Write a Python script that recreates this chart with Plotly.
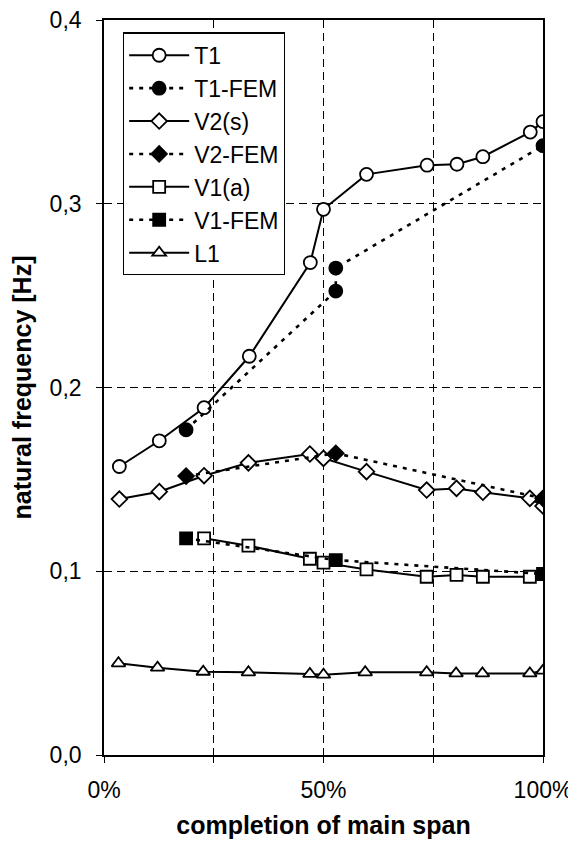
import plotly.graph_objects as go

# completion of main span [%]
x_t1 = [3.5, 12.6, 22.8, 33.1, 47.0, 50.0, 59.8, 73.6, 80.4, 86.3, 97.1, 100.0]
y_t1 = [0.157, 0.171, 0.189, 0.217, 0.268, 0.297, 0.316, 0.321, 0.3215, 0.3256, 0.339, 0.3447]

x_t1fem = [18.7, 52.8, 52.8, 100.0]
y_t1fem = [0.177, 0.2525, 0.265, 0.3316]

x_v2 = [3.5, 12.6, 22.8, 32.9, 46.9, 50.0, 59.8, 73.5, 80.3, 86.3, 97.0, 100.0]
y_v2 = [0.1393, 0.1433, 0.152, 0.159, 0.1638, 0.1614, 0.1542, 0.1442, 0.1451, 0.143, 0.1397, 0.1355]

x_v2fem = [18.7, 52.8, 100.0]
y_v2fem = [0.1518, 0.1642, 0.1397]

x_v1 = [22.8, 32.9, 46.9, 50.0, 59.8, 73.5, 80.3, 86.3, 97.0]
y_v1 = [0.1179, 0.1139, 0.1068, 0.1047, 0.101, 0.097, 0.098, 0.097, 0.097]

x_v1fem = [18.7, 52.8, 100.0]
y_v1fem = [0.1179, 0.1061, 0.0985]

x_l1 = [3.3, 12.2, 22.6, 32.9, 46.9, 50.0, 59.5, 73.5, 80.2, 86.2, 97.0, 100.0]
y_l1 = [0.0499, 0.0475, 0.0453, 0.045, 0.0441, 0.0437, 0.045, 0.045, 0.0444, 0.0444, 0.0444, 0.0459]

x_tickvals = [0, 25, 50, 75, 100]
x_ticktext = ["0%", "", "50%", "", "100%"]
y_tickvals = [0.0, 0.1, 0.2, 0.3, 0.4]
y_ticktext = ["0,0", "0,1", "0,2", "0,3", "0,4"]

FONT = "Liberation Sans, Arial, sans-serif"

fig = go.Figure()

def add(name, xs, ys, symbol, filled, dotted):
    fig.add_trace(go.Scatter(
        x=xs, y=ys, name=name, mode="lines+markers", legendgroup=name,
        line=dict(color="black", width=2.6 if dotted else 2,
                  dash="4px,6px" if dotted else "solid"),
        marker=dict(symbol=symbol, size=13 if symbol == "circle" else 12,
                    color="black" if filled else "white",
                    line=dict(color="black", width=1.8)),
    ))

add("T1", x_t1, y_t1, "circle", False, False)
add("T1-FEM", x_t1fem, y_t1fem, "circle", True, True)
add("V2(s)", x_v2, y_v2, "diamond", False, False)
add("V2-FEM", x_v2fem, y_v2fem, "diamond", True, True)
add("V1(a)", x_v1, y_v1, "square", False, False)
add("V1-FEM", x_v1fem, y_v1fem, "square", True, True)
add("L1", x_l1, y_l1, "triangle-up", False, False)

axis_common = dict(
    showgrid=True, gridcolor="black", griddash="8px,5px", gridwidth=1,
    showline=True, linecolor="black", linewidth=1.6, mirror=True,
    ticks="outside", ticklen=6, tickcolor="black", tickwidth=1.3,
    zeroline=False, automargin=False, tickfont=dict(size=23),
    ticklabeloverflow="allow",
)

fig.update_layout(
    width=568, height=840,
    margin=dict(l=96, r=33, t=12, b=93),
    paper_bgcolor="white", plot_bgcolor="white",
    font=dict(family=FONT, color="black", size=23),
    showlegend=True,
    legend=dict(x=0.043, y=0.983, xanchor="left", yanchor="top",
                bgcolor="white", bordercolor="black", borderwidth=1.3,
                font=dict(size=23), tracegroupgap=0, itemwidth=60),
    xaxis=dict(range=[0, 100], tickvals=x_tickvals, ticktext=x_ticktext,
               ticklabelstandoff=8,
               title=dict(text="<b>completion of main span</b>", font=dict(size=25), standoff=14),
               **axis_common),
    yaxis=dict(range=[0, 0.40001], tickvals=y_tickvals, ticktext=y_ticktext,
               ticklabelstandoff=10,
               title=dict(text="<b>natural frequency [Hz]</b>", font=dict(size=25), standoff=12),
               **axis_common),
)

fig.write_html("out.html")
